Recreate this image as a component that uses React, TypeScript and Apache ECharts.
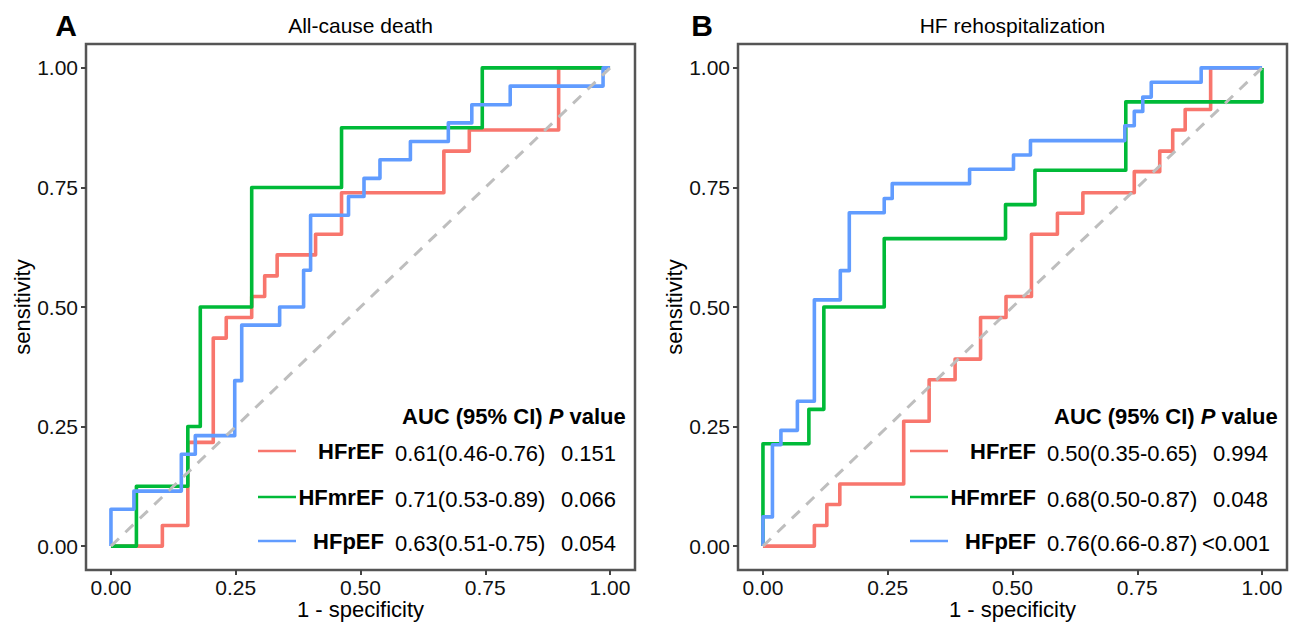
import React, { useEffect, useRef } from "react";
import * as echarts from "echarts";

// ---------- data ----------
const groups = ["HFrEF", "HFmrEF", "HFpEF"];
const colors = ["#F8766D", "#00BA38", "#619CFF"];
const panelTitles = ["All-cause death", "HF rehospitalization"];
const panelLetters = ["A", "B"];
const xTicks = [0, 0.25, 0.5, 0.75, 1];
const yTicks = [0, 0.25, 0.5, 0.75, 1];
const diagonal = [[0, 0], [1, 1]];

const aucA = ["0.61(0.46-0.76)", "0.71(0.53-0.89)", "0.63(0.51-0.75)"];
const pA = ["0.151", "0.066", "0.054"];
const aucB = ["0.50(0.35-0.65)", "0.68(0.50-0.87)", "0.76(0.66-0.87)"];
const pB = ["0.994", "0.048", "<0.001"];

// ROC curves: [1 - specificity, sensitivity]
const rocA_HFrEF = [
  [0, 0], [0.103, 0], [0.103, 0.043], [0.154, 0.043], [0.154, 0.217], [0.205, 0.217],
  [0.205, 0.435], [0.231, 0.435], [0.231, 0.478], [0.282, 0.478], [0.282, 0.522],
  [0.308, 0.522], [0.308, 0.565], [0.333, 0.565], [0.333, 0.609], [0.41, 0.609],
  [0.41, 0.652], [0.462, 0.652], [0.462, 0.739], [0.667, 0.739], [0.667, 0.826],
  [0.718, 0.826], [0.718, 0.87], [0.897, 0.87], [0.897, 1], [1, 1],
];
const rocA_HFmrEF = [
  [0, 0], [0.051, 0], [0.051, 0.125], [0.154, 0.125], [0.154, 0.25], [0.179, 0.25],
  [0.179, 0.5], [0.282, 0.5], [0.282, 0.75], [0.462, 0.75], [0.462, 0.875],
  [0.744, 0.875], [0.744, 1], [1, 1],
];
const rocA_HFpEF = [
  [0, 0], [0, 0.077], [0.046, 0.077], [0.046, 0.115], [0.141, 0.115], [0.141, 0.192],
  [0.169, 0.192], [0.169, 0.231], [0.248, 0.231], [0.248, 0.346], [0.262, 0.346],
  [0.262, 0.462], [0.338, 0.462], [0.338, 0.5], [0.386, 0.5], [0.386, 0.577],
  [0.4, 0.577], [0.4, 0.692], [0.476, 0.692], [0.476, 0.731], [0.507, 0.731],
  [0.507, 0.769], [0.539, 0.769], [0.539, 0.808], [0.6, 0.808], [0.6, 0.846],
  [0.676, 0.846], [0.676, 0.885], [0.723, 0.885], [0.723, 0.923], [0.8, 0.923],
  [0.8, 0.962], [0.986, 0.962], [0.986, 1], [1, 1],
];
const rocB_HFrEF = [
  [0, 0], [0.103, 0], [0.103, 0.043], [0.128, 0.043], [0.128, 0.087], [0.154, 0.087],
  [0.154, 0.13], [0.282, 0.13], [0.282, 0.261], [0.333, 0.261], [0.333, 0.348],
  [0.385, 0.348], [0.385, 0.391], [0.436, 0.391], [0.436, 0.478], [0.487, 0.478],
  [0.487, 0.522], [0.538, 0.522], [0.538, 0.652], [0.59, 0.652], [0.59, 0.696],
  [0.641, 0.696], [0.641, 0.739], [0.744, 0.739], [0.744, 0.783], [0.795, 0.783],
  [0.795, 0.826], [0.821, 0.826], [0.821, 0.87], [0.846, 0.87], [0.846, 0.913],
  [0.897, 0.913], [0.897, 1], [1, 1],
];
const rocB_HFmrEF = [
  [0, 0], [0, 0.214], [0.092, 0.214], [0.092, 0.286], [0.122, 0.286], [0.122, 0.5],
  [0.243, 0.5], [0.243, 0.643], [0.486, 0.643], [0.486, 0.714], [0.545, 0.714],
  [0.545, 0.786], [0.727, 0.786], [0.727, 0.929], [1, 0.929], [1, 1],
];
const rocB_HFpEF = [
  [0, 0], [0, 0.061], [0.019, 0.061], [0.019, 0.212], [0.036, 0.212], [0.036, 0.242],
  [0.069, 0.242], [0.069, 0.303], [0.103, 0.303], [0.103, 0.515], [0.155, 0.515],
  [0.155, 0.576], [0.173, 0.576], [0.173, 0.697], [0.243, 0.697], [0.243, 0.727],
  [0.259, 0.727], [0.259, 0.758], [0.414, 0.758], [0.414, 0.788], [0.502, 0.788],
  [0.502, 0.818], [0.536, 0.818], [0.536, 0.848], [0.725, 0.848], [0.725, 0.879],
  [0.744, 0.879], [0.744, 0.909], [0.761, 0.909], [0.761, 0.939], [0.778, 0.939],
  [0.778, 0.97], [0.878, 0.97], [0.878, 1], [1, 1],
];

const panelCurves = [
  [rocA_HFrEF, rocA_HFmrEF, rocA_HFpEF],
  [rocB_HFrEF, rocB_HFmrEF, rocB_HFpEF],
];
const panelAuc = [aucA, aucB];
const panelP = [pA, pB];

// ---------- layout ----------
const FONT = '"Liberation Sans", Arial, Helvetica, sans-serif';
const W = 1291;
const H = 622;
const GRID_TOP = 44;
const GRID_H = 526;
const GRID_W = 549;
const GRID_LEFTS = [86, 738];
const LETTER_X = [66, 702];

function buildOption() {
  const grids: any[] = [];
  const xAxes: any[] = [];
  const yAxes: any[] = [];
  const series: any[] = [];
  const graphics: any[] = [];

  GRID_LEFTS.forEach((gl, pi) => {
    grids.push({
      left: gl,
      top: GRID_TOP,
      width: GRID_W,
      height: GRID_H,
      show: true,
      borderColor: "#555555",
      borderWidth: 2.5,
      backgroundColor: "#ffffff",
    });
    const tickStyle = {
      show: true,
      inside: false,
      length: 5,
      lineStyle: { color: "#444444", width: 2 },
    };
    const labelStyle = {
      formatter: (v: number) => v.toFixed(2),
      fontSize: 21,
      fontFamily: FONT,
      color: "#111111",
    };
    xAxes.push({
      type: "value",
      gridIndex: pi,
      position: "bottom",
      min: -0.05,
      max: 1.05,
      splitLine: { show: false },
      axisLine: { show: false, onZero: false },
      axisTick: { ...tickStyle, customValues: xTicks },
      axisLabel: { ...labelStyle, customValues: xTicks, margin: 7 },
    });
    yAxes.push({
      type: "value",
      gridIndex: pi,
      position: "left",
      min: -0.05,
      max: 1.05,
      splitLine: { show: false },
      axisLine: { show: false, onZero: false },
      axisTick: { ...tickStyle, customValues: yTicks },
      axisLabel: { ...labelStyle, customValues: yTicks, margin: 8 },
    });

    panelCurves[pi].forEach((curve, gi) => {
      series.push({
        type: "line",
        name: groups[gi],
        xAxisIndex: pi,
        yAxisIndex: pi,
        data: curve,
        showSymbol: false,
        symbol: "none",
        lineStyle: { color: colors[gi], width: 3.6, join: "round" },
        z: 2 + gi,
        silent: true,
      });
    });
    series.push({
      type: "line",
      name: "ref",
      xAxisIndex: pi,
      yAxisIndex: pi,
      data: diagonal,
      showSymbol: false,
      symbol: "none",
      lineStyle: { color: "#BEBEBE", width: 3, type: [11, 9] },
      z: 6,
      silent: true,
    });

    const cx = gl + GRID_W / 2;
    graphics.push({
      type: "text",
      x: LETTER_X[pi],
      y: 25,
      style: {
        text: panelLetters[pi],
        fill: "#000",
        fontSize: 30,
        fontWeight: "bold",
        fontFamily: FONT,
        align: "center",
        verticalAlign: "middle",
      },
    });
    graphics.push({
      type: "text",
      x: cx,
      y: 25,
      style: {
        text: panelTitles[pi],
        fill: "#000",
        fontSize: 21,
        fontFamily: FONT,
        align: "center",
        verticalAlign: "middle",
      },
    });
    graphics.push({
      type: "text",
      x: cx,
      y: 609,
      style: {
        text: "1 - specificity",
        fill: "#000",
        fontSize: 22,
        fontFamily: FONT,
        align: "center",
        verticalAlign: "middle",
      },
    });
    graphics.push({
      type: "text",
      x: gl - 64,
      y: GRID_TOP + GRID_H / 2,
      rotation: Math.PI / 2,
      style: {
        text: "sensitivity",
        fill: "#000",
        fontSize: 22,
        fontFamily: FONT,
        align: "center",
        verticalAlign: "middle",
      },
    });

    graphics.push({
      type: "text",
      x: gl + 316,
      y: 416,
      style: {
        text: "{b|AUC (95% CI) }{i|P}{b| value}",
        fill: "#000",
        align: "left",
        verticalAlign: "middle",
        rich: {
          b: { fontSize: 22, fontWeight: "bold", fontFamily: FONT, fill: "#000" },
          i: {
            fontSize: 22,
            fontWeight: "bold",
            fontStyle: "italic",
            fontFamily: FONT,
            fill: "#000",
          },
        },
      },
    });
    const rowsY = [451, 497, 541];
    groups.forEach((g, gi) => {
      const y = rowsY[gi];
      graphics.push({
        type: "line",
        shape: { x1: gl + 172, y1: y, x2: gl + 210, y2: y },
        style: { stroke: colors[gi], lineWidth: 2.7 },
      });
      graphics.push({
        type: "text",
        x: gl + 298,
        y: y,
        style: {
          text: g,
          fill: "#000",
          fontSize: 22,
          fontWeight: "bold",
          fontFamily: FONT,
          align: "right",
          verticalAlign: "middle",
        },
      });
      graphics.push({
        type: "text",
        x: gl + 309,
        y: y + 2,
        style: {
          text: panelAuc[pi][gi],
          fill: "#000",
          fontSize: 22,
          fontFamily: FONT,
          align: "left",
          verticalAlign: "middle",
        },
      });
      const p = panelP[pi][gi];
      graphics.push({
        type: "text",
        x: gl + 475 - (p.startsWith("<") ? 11 : 0),
        y: y + 2,
        style: {
          text: p,
          fill: "#000",
          fontSize: 22,
          fontFamily: FONT,
          align: "left",
          verticalAlign: "middle",
        },
      });
    });
  });

  return {
    animation: false,
    backgroundColor: "#ffffff",
    grid: grids,
    xAxis: xAxes,
    yAxis: yAxes,
    series,
    graphic: graphics,
  };
}

export default function App() {
  const ref = useRef<HTMLDivElement>(null);
  useEffect(() => {
    if (!ref.current) return;
    const chart = echarts.init(ref.current, null, { renderer: "svg" });
    chart.setOption(buildOption() as any);
    return () => chart.dispose();
  }, []);
  return (
    <div
      ref={ref}
      style={{ position: "absolute", left: 0, top: 0, width: W, height: H, background: "#fff" }}
    />
  );
}
